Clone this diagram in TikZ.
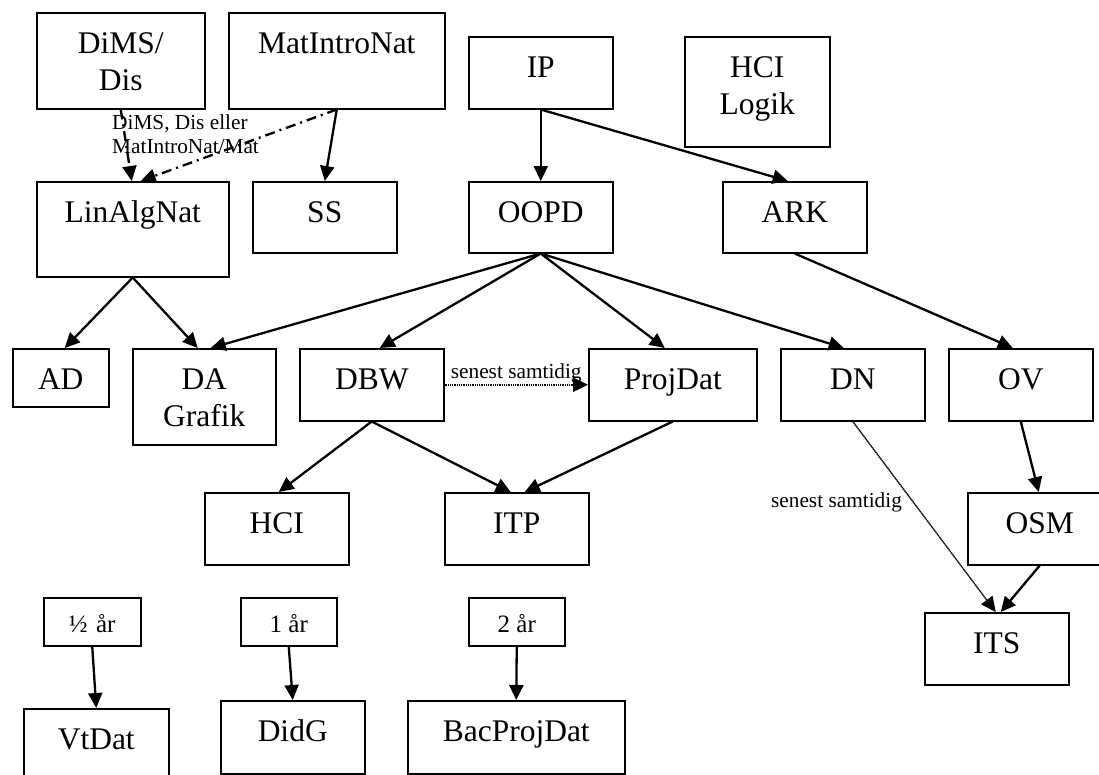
\documentclass[tikz,border=0pt]{standalone}
\usepackage{fontspec}
\setmainfont{Liberation Serif}
\usetikzlibrary{arrows.meta}
\tikzset{
  box/.style={draw, line width=1.5pt, inner sep=0pt, anchor=north west, align=center,
    text height=40.5pt, font=\fontsize{31.5}{37}\selectfont},
  box2/.style={box, text height=77.5pt},
  ybox/.style={box, text height=35pt, font=\fontsize{25}{28}\selectfont},
  arr/.style={line width=2.3pt, -{Triangle[length=15pt,width=14pt]}},
  dashdotline/.style={arr, dash pattern=on 10pt off 5pt on 2pt off 5pt},
  denseline/.style={arr, line width=2.4pt, dash pattern=on 1pt off 0.8pt},
  thinline/.style={arr, line width=1.3pt, dash pattern=on 1.5pt off 0.5pt},
  lbl/.style={font=\fontsize{21.3}{24}\selectfont, inner sep=0pt},
}
\begin{document}
\begin{tikzpicture}[x=1pt, y=-1pt]
\clip (0,0) rectangle (1099,774);
\fill[white] (0,0) rectangle (1099,774);
% row 1
\node[box2, minimum width=168pt, text depth=18.5pt] (dims) at (36,12) {DiMS/\\Dis};
\node[box, minimum width=216pt, text depth=55.5pt] (mat) at (228,12) {MatIntroNat};
\node[box, minimum width=144pt, text depth=31.5pt] (ip) at (468,36) {IP};
\node[box2, minimum width=145pt, text depth=32.5pt] (hcil) at (684,36) {HCI\\Logik};
% row 2
\node[box, minimum width=192pt, text depth=54.5pt] (linalg) at (36,181) {LinAlgNat};
\node[box, minimum width=144pt, text depth=30.5pt] (ss) at (252,181) {SS};
\node[box, minimum width=144pt, text depth=30.5pt] (oopd) at (468,181) {OOPD};
\node[box, minimum width=144pt, text depth=30.5pt] (ark) at (722,181) {ARK};
% row 3
\node[box, minimum width=96pt, text depth=17.5pt] (ad) at (12,348) {AD};
\node[box2, minimum width=143pt, text depth=18.5pt] (da) at (132,348) {DA\\Grafik};
\node[box, minimum width=144pt, text depth=31.5pt] (dbw) at (299,348) {DBW};
\node[box, minimum width=168pt, text depth=31.5pt] (projdat) at (588,348) {ProjDat};
\node[box, minimum width=144pt, text depth=31.5pt] (dn) at (780,348) {DN};
\node[box, minimum width=144pt, text depth=31.5pt] (ov) at (948,348) {OV};
% row 4
\node[box, minimum width=144pt, text depth=31.5pt] (hci) at (204,492) {HCI};
\node[box, minimum width=144pt, text depth=31.5pt] (itp) at (444,492) {ITP};
\node[box, minimum width=144pt, text depth=31.5pt] (osm) at (967,492) {OSM};
\node[box, minimum width=144pt, text depth=31.5pt] (its) at (924,612) {ITS};
% bottom
\node[ybox, minimum width=97pt, text depth=13pt] (half) at (43,597) {½\,\,år};
\node[ybox, minimum width=96pt, text depth=13pt] (one) at (240,597) {1 år};
\node[ybox, minimum width=96pt, text depth=13pt] (two) at (468,597) {2 år};
\node[box, minimum width=145pt, text depth=39.5pt] (vtdat) at (23,708) {VtDat};
\node[box, minimum width=144pt, text depth=32.5pt] (didg) at (220,700) {DidG};
\node[box, minimum width=217pt, text depth=32.5pt] (bac) at (407,700) {BacProjDat};

% connectors
\draw[dashdotline] (dims.south) -- ([xshift=-1pt]linalg.north);
\draw[dashdotline] (mat.south) -- ([xshift=8pt]linalg.north);
\node[lbl, align=left, anchor=base west] (lblmat) at (112,153) {DiMS, Dis eller\\MatIntroNat/Mat};
\draw[arr] (mat.south) -- (ss.north);
\draw[arr] (ip.south) -- (oopd.north);
\draw[arr] (ip.south) -- ([xshift=-7pt]ark.north);
\draw[arr] (linalg.south) -- ([xshift=4pt]ad.north);
\draw[arr] (linalg.south) -- ([xshift=-6.5pt]da.north);
\draw[arr] (oopd.south) -- ([xshift=6.5pt]da.north);
\draw[arr] (oopd.south) -- ([xshift=8pt]dbw.north);
\draw[arr] (oopd.south) -- ([xshift=-8pt]projdat.north);
\draw[arr] (oopd.south) -- ([xshift=-9pt]dn.north);
\draw[arr] (ark.south) -- ([xshift=-8pt]ov.north);
\draw[denseline] (dbw.east) -- node[lbl, midway, anchor=base, yshift=6pt] {senest samtidig} (projdat.west);
\draw[arr] (dbw.south) -- ([xshift=2pt]hci.north);
\draw[arr] (dbw.south) -- ([xshift=-6pt]itp.north);
\draw[arr] (projdat.south) -- ([xshift=8pt]itp.north);
\draw[thinline] (dn.south) -- node[lbl, pos=0.453, anchor=base east, xshift=-15pt] {senest samtidig} ([xshift=-1pt]its.north);
\draw[arr] (ov.south) -- ([xshift=-1pt]osm.north);
\draw[arr] (osm.south) -- ([xshift=4pt]its.north);
\draw[arr] (half.south) -- (vtdat.north);
\draw[arr] (one.south) -- (didg.north);
\draw[arr] (two.south) -- (bac.north);
\end{tikzpicture}
\end{document}
